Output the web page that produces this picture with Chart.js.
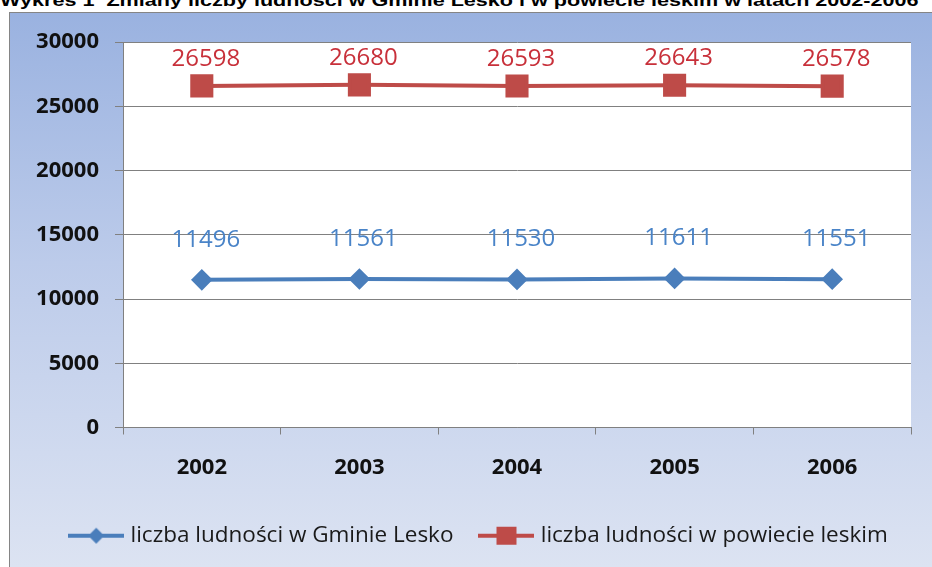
<!DOCTYPE html>
<html>
<head>
<meta charset="utf-8">
<script src="https://cdn.jsdelivr.net/npm/chart.js@4.4.1/dist/chart.umd.min.js"></script>
<style>
  html, body { margin: 0; padding: 0; background: #fff; width: 932px; height: 567px; overflow: hidden; }
  #title { position: absolute; left: 0; top: -9px; font: bold 17px "Liberation Sans", Arial, sans-serif; white-space: nowrap; transform-origin: 0 0; color: #000; }
  #box { position: absolute; left: 9px; top: 12px; width: 923px; height: 555px; box-sizing: border-box;
         border-left: 1px solid #858585; border-top: 1px solid #858585;
         background: linear-gradient(to bottom, #9ab2e0 0%, #bccbea 45%, #dce3f2 100%); }
  #chart { position: absolute; left: 0; top: 0; }
</style>
</head>
<body>
<div id="title">Wykres 1&nbsp; Zmiany liczby ludności w Gminie Lesko i w powiecie leskim w latach 2002-2006</div>
<div id="box"><canvas id="chart" width="922" height="554"></canvas></div>
<script>
// data
const years = ['2002', '2003', '2004', '2005', '2006'];
const gminaLesko = [11496, 11561, 11530, 11611, 11551];
const powiatLeski = [26598, 26680, 26593, 26643, 26578];
const yTicks = [0, 5000, 10000, 15000, 20000, 25000, 30000];

const blue = '#4a7ebb';
const red = '#be4b48';

// stretch the title to the width it has in the picture
const title = document.getElementById('title');
title.style.transform = 'scaleX(' + (918 / title.offsetWidth) + ')';

function legendIcon(color, shape) {
  const c = document.createElement('canvas');
  c.width = 56; c.height = 20;
  const g = c.getContext('2d');
  g.strokeStyle = color; g.lineWidth = 4;
  g.beginPath(); g.moveTo(0, 10); g.lineTo(56, 10); g.stroke();
  g.fillStyle = color;
  if (shape === 'diamond') {
    g.beginPath(); g.moveTo(28, 2); g.lineTo(36, 10); g.lineTo(28, 18); g.lineTo(20, 10); g.closePath(); g.fill();
  } else {
    g.fillRect(18, 1, 20, 18);
  }
  return c;
}
const icons = [legendIcon(blue, 'diamond'), legendIcon(red, 'square')];

const plotBackground = {
  id: 'plotBackground',
  beforeDraw(chart) {
    const a = chart.chartArea, ctx = chart.ctx;
    ctx.save();
    ctx.fillStyle = '#ffffff';
    ctx.fillRect(a.left, a.top, a.right - a.left, a.bottom - a.top);
    ctx.restore();
  }
};

// the legend sits a little right of centre in the picture
const legendShift = {
  id: 'legendShift',
  afterLayout(chart) {
    chart.legend.left += 20;
    chart.legend.right += 20;
  }
};

const valueLabels = {
  id: 'valueLabels',
  afterDatasetsDraw(chart) {
    const ctx = chart.ctx;
    ctx.save();
    ctx.font = '24px "Open Sans", sans-serif';
    ctx.textAlign = 'center';
    ctx.textBaseline = 'middle';
    chart.data.datasets.forEach((ds, i) => {
      const meta = chart.getDatasetMeta(i);
      ctx.fillStyle = ds.labelColor;
      meta.data.forEach((pt, j) => {
        ctx.fillText(String(ds.data[j]), pt.x + 4, pt.y - ds.labelLift);
      });
    });
    ctx.restore();
  }
};

new Chart(document.getElementById('chart'), {
  type: 'line',
  data: {
    labels: years,
    datasets: [{
      label: 'liczba ludności w Gminie Lesko',
      data: gminaLesko,
      borderColor: blue,
      backgroundColor: blue,
      borderWidth: 4,
      pointStyle: 'rectRot',
      pointRadius: 8,
      pointHoverRadius: 8,
      labelColor: '#4a84c8',
      labelLift: 40
    }, {
      label: 'liczba ludności w powiecie leskim',
      data: powiatLeski,
      borderColor: red,
      backgroundColor: red,
      borderWidth: 4,
      pointStyle: 'rect',
      pointRadius: 13.5,
      pointHoverRadius: 13.5,
      labelColor: '#c8303a',
      labelLift: 27
    }]
  },
  options: {
    responsive: false,
    animation: false,
    layout: { padding: { top: 29, right: 21, left: 0, bottom: 10 } },
    plugins: {
      tooltip: { enabled: false },
      legend: {
        position: 'bottom',
        labels: {
          usePointStyle: true,
          pointStyleWidth: 46,
          padding: 30,
          color: '#1a1a1a',
          font: { family: '"Open Sans", sans-serif', size: 22.5 },
          generateLabels(chart) {
            const items = Chart.defaults.plugins.legend.labels.generateLabels(chart);
            items.forEach((it, i) => { it.pointStyle = icons[i]; });
            return items;
          }
        }
      }
    },
    scales: {
      x: {
        offset: true,
        grid: { offset: true, drawOnChartArea: false, drawTicks: true, tickLength: 7, color: '#808080' },
        border: { color: '#808080' },
        ticks: { color: '#111', padding: 20, font: { family: '"Open Sans", sans-serif', size: 22, weight: 'bold' } },
        afterFit(scale) { scale.height = 67; }
      },
      y: {
        min: 0,
        max: 30000,
        afterBuildTicks(scale) { scale.ticks = yTicks.map(v => ({ value: v })); },
        grid: { color: '#808080', tickLength: 8 },
        border: { color: '#808080' },
        ticks: {
          color: '#111', padding: 16,
          font: { family: '"Open Sans", sans-serif', size: 22, weight: 'bold' },
          callback: v => String(v)
        },
        afterFit(scale) { scale.width = 113; }
      }
    }
  },
  plugins: [plotBackground, legendShift, valueLabels]
});
</script>
</body>
</html>
